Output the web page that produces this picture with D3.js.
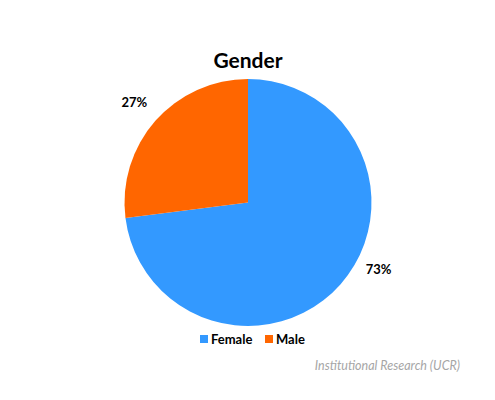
<!DOCTYPE html>
<html>
<head>
<meta charset="utf-8">
<script src="https://cdn.jsdelivr.net/npm/d3@7"></script>
<style>
  body { margin: 0; background: #fff; }
  svg { display: block; font-family: Lato, 'Open Sans', sans-serif; }
</style>
</head>
<body>
<svg id="chart" width="495" height="400"></svg>
<script>
const categories = ['Female', 'Male'];
const values = [73, 27];
const colors = ['#3399ff', '#ff6600'];
const labelText = ['73%', '27%'];

const width = 495, height = 400;
const cx = 248, cy = 202.5, radius = 123.5;
// nudges so the labels land where the original layout put them
const labelNudge = [[17, -33], [0, 0]];

const svg = d3.select('#chart');

svg.append('text')
    .attr('x', cx)
    .attr('y', 68)
    .attr('text-anchor', 'middle')
    .attr('font-size', 21)
    .attr('font-weight', 'bold')
    .attr('fill', '#000')
    .text('Gender');

const pie = d3.pie().sort(null).value(d => d);
const arcs = pie(values);
const arc = d3.arc().innerRadius(0).outerRadius(radius);
const labelArc = d3.arc().innerRadius(radius + 28).outerRadius(radius + 28);

const g = svg.append('g').attr('transform', `translate(${cx},${cy})`);

g.selectAll('path.slice')
    .data(arcs)
    .enter()
    .append('path')
        .attr('class', 'slice')
        .attr('d', arc)
        .attr('fill', (d, i) => colors[i]);

// percentage labels sit just outside the rim
g.selectAll('text.label')
    .data(arcs)
    .enter()
    .append('text')
        .attr('class', 'label')
        .attr('transform', (d, i) => {
            const [x, y] = labelArc.centroid(d);
            return `translate(${x + labelNudge[i][0]},${y + labelNudge[i][1]})`;
        })
        .attr('text-anchor', 'middle')
        .attr('dy', '0.35em')
        .attr('font-size', 13)
        .attr('font-weight', 'bold')
        .attr('fill', '#000')
        .text((d, i) => labelText[i]);

// legend
const legend = svg.append('g').attr('transform', 'translate(200,335)');
const legendX = [0, 65];
const items = legend.selectAll('g.item')
    .data(categories)
    .enter()
    .append('g')
        .attr('class', 'item')
        .attr('transform', (d, i) => `translate(${legendX[i]},0)`);
items.append('rect')
    .attr('width', 8)
    .attr('height', 8)
    .attr('fill', (d, i) => colors[i]);
items.append('text')
    .attr('x', 11)
    .attr('y', 8.5)
    .attr('font-size', 13)
    .attr('font-weight', 'bold')
    .attr('fill', '#000')
    .text(d => d);

svg.append('text')
    .attr('x', 460)
    .attr('y', 370)
    .attr('text-anchor', 'end')
    .attr('font-size', 12.5)
    .attr('font-style', 'italic')
    .attr('fill', '#a6a6a6')
    .text('Institutional Research (UCR)');
</script>
</body>
</html>
